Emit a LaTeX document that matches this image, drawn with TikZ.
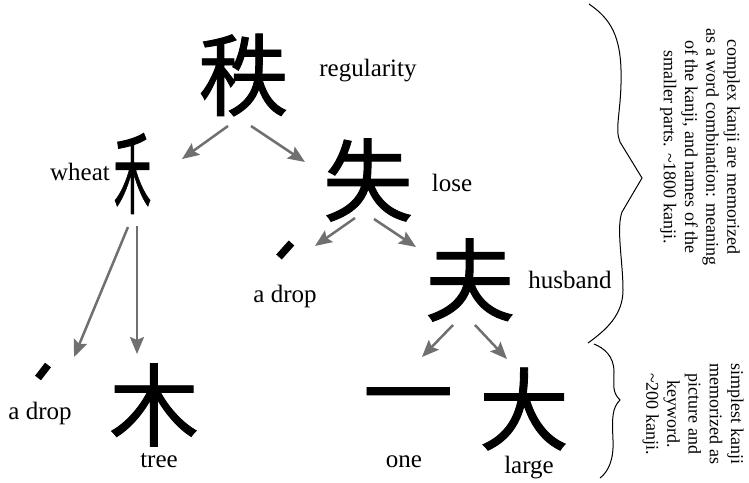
\documentclass[tikz,border=0pt]{standalone}
\usepackage{fontspec}
\setmainfont{Liberation Serif}
\newfontfamily\kanjifont[FakeBold=1]{Noto Sans CJK JP}
\usetikzlibrary{arrows.meta}
\definecolor{arrgray}{RGB}{112,112,112}
\begin{document}
\begin{tikzpicture}[x=1pt,y=-1pt,
  kanji/.style={inner sep=0pt, font=\kanjifont\fontsize{90}{90}\selectfont},
  lbl/.style={inner sep=0pt, font=\fontsize{25}{30}\selectfont},
  note/.style={inner sep=0pt, rotate=-90, align=center, font=\fontsize{18}{21.2}\selectfont},
  arr/.style={draw=arrgray, line width=2.5pt, -{Stealth[length=17pt,width=14pt,inset=3pt]}},
  dropstroke/.style={line width=7.5pt},
  brace/.style={line width=1pt}]
\useasboundingbox (0,0) rectangle (749,482);

% kanji
\node[kanji] (zhi) at (243.5,75) {秩};
\node[kanji] (he) at (132.5,173.5) {\scalebox{0.42}[1]{禾}};
\node[kanji] (shi) at (368,180) {失};
\node[kanji] (fu) at (470,280) {夫};
\node[kanji] (ki) at (154,405) {木};
\node[kanji] (ichi) at (408,407) {一};
\node[kanji] (dai) at (524,409) {大};

% drops
\coordinate (d1a) at (291.5,243);
\coordinate (d1b) at (279,257);
\draw[dropstroke] (d1a) -- (d1b);
\coordinate (d2a) at (48,365);
\coordinate (d2b) at (38,378);
\draw[dropstroke] (d2a) -- (d2b);

% labels
\node[lbl] (lreg) at (368,71) {regularity};
\node[lbl] (lwheat) at (80,172) {wheat};
\node[lbl] (llose) at (452,183) {lose};
\node[lbl] (ldrop1) at (285,296) {a drop};
\node[lbl] (lhus) at (570,280) {husband};
\node[lbl] (ldrop2) at (40,413) {a drop};
\node[lbl] (ltree) at (159,461) {tree};
\node[lbl] (lone) at (404,462) {one};
\node[lbl] (llarge) at (529,468) {large};

% arrows
\coordinate (a1s) at (228,126); \coordinate (a1e) at (182,159);
\coordinate (a2s) at (251,126); \coordinate (a2e) at (305,162);
\coordinate (a3s) at (355,218); \coordinate (a3e) at (315,246);
\coordinate (a4s) at (374,219); \coordinate (a4e) at (416,247);
\coordinate (a5s) at (128,227); \coordinate (a5e) at (74,357);
\coordinate (a6s) at (137,226); \coordinate (a6e) at (137,354);
\coordinate (a7s) at (453,325); \coordinate (a7e) at (422,357);
\coordinate (a8s) at (475,325); \coordinate (a8e) at (507,359);
\draw[arr] (a1s) -- (a1e);
\draw[arr] (a2s) -- (a2e);
\draw[arr] (a3s) -- (a3e);
\draw[arr] (a4s) -- (a4e);
\draw[arr] (a5s) -- (a5e);
\draw[arr] (a6s) -- (a6e);
\draw[arr] (a7s) -- (a7e);
\draw[arr] (a8s) -- (a8e);

% braces
\draw[brace] (589,4) .. controls (606,16) and (620,30) .. (621,70)
  .. controls (622,110) and (614,128) .. (620,142) -- (642,178) -- (622,212)
  .. controls (616,228) and (623,262) .. (623,290)
  .. controls (623,315) and (606,330) .. (588,343);
\draw[brace] (594,344) .. controls (604,348) and (614,356) .. (614,372)
  .. controls (614,386) and (612,392) .. (620,400)
  .. controls (612,408) and (612,418) .. (613,440)
  .. controls (614,460) and (608,472) .. (600,478);

% notes
\node[note] (n1) at (700,147) {complex kanji are memorized\\as a word combination: meaning\\of the kanji, and names of the\\smaller parts. \textasciitilde1800 kanji.};
\node[note] (n2) at (693,414) {simplest kanji\\memorized as\\picture and\\keyword.\\\textasciitilde200 kanji.};
\end{tikzpicture}
\end{document}
